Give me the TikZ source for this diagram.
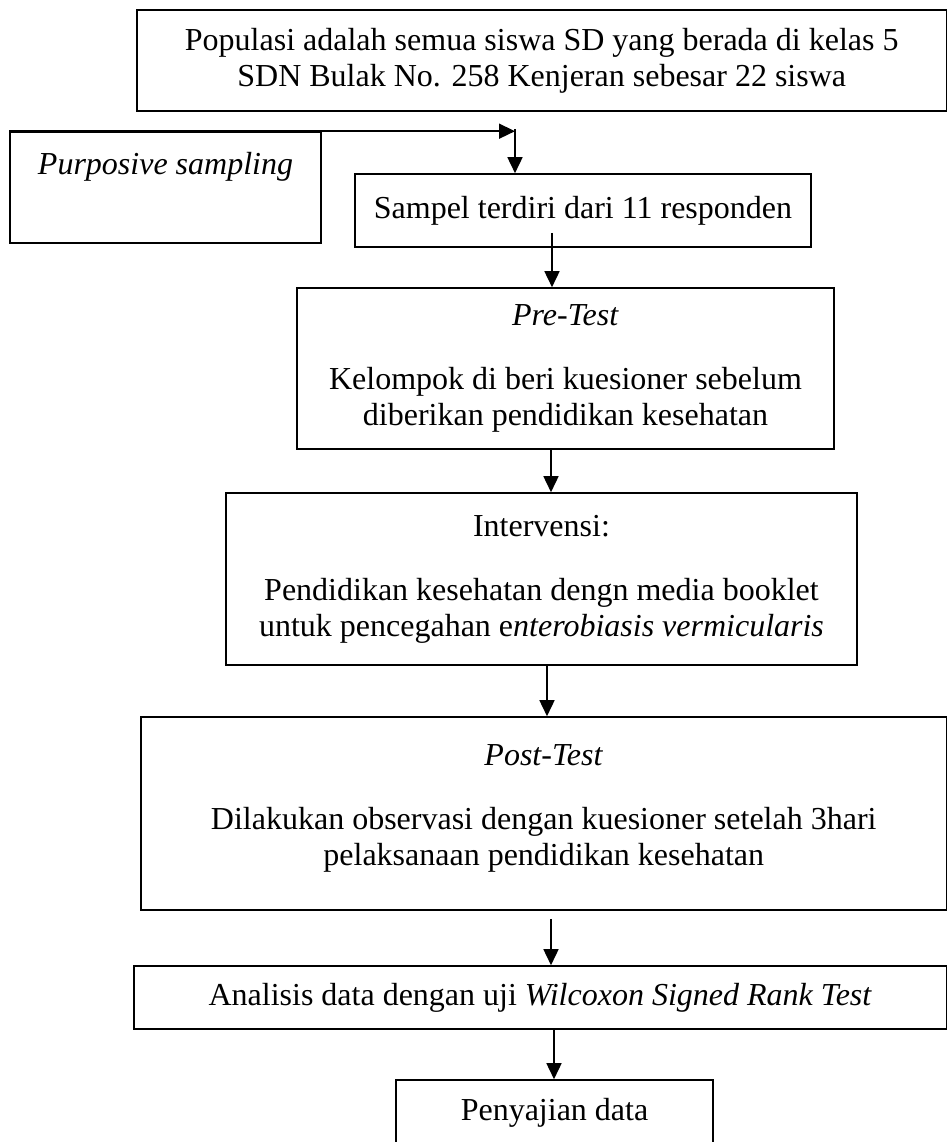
\documentclass[tikz,border=0pt]{standalone}
\usepackage{fontspec}
\setmainfont{Liberation Serif}
\usetikzlibrary{arrows.meta, calc}

\begin{document}
\begin{tikzpicture}[
  x=0.5pt, y=-0.5pt,
  box/.style={draw, rectangle, inner sep=0pt, align=center, font=\fontsize{16}{18}\selectfont, line width=0.8pt},
  flow/.style={-{Triangle[length=8pt, width=7.5pt]}, line width=0.8pt}
]
\useasboundingbox (0,0) rectangle (948,1142);
\node[box, minimum width=404.75pt, minimum height=50.5pt] (pop) at (541.75,60.5) {Populasi adalah semua siswa SD yang berada di kelas 5\\SDN Bulak No. 258 Kenjeran sebesar 22 siswa};
\node[box, minimum width=155.5pt, minimum height=55.5pt] (purp) at (165.5,187.5) {\textit{Purposive sampling}\\[6.5pt]\mbox{}};
\node[box, minimum width=228pt, minimum height=36.5pt] (samp) at (583,210.5) {Sampel terdiri dari 11 responden};
\node[box, minimum width=268.5pt, minimum height=80.5pt] (pre) at (565.5,368.5) {\textit{Pre-Test}\\[14pt]Kelompok di beri kuesioner sebelum\\diberikan pendidikan kesehatan};
\node[box, minimum width=315.5pt, minimum height=86pt] (interv) at (541.5,579) {Intervensi:\\[14pt]Pendidikan kesehatan dengn media booklet\\untuk pencegahan e\textit{nterobiasis vermicularis}};
\node[box, minimum width=402.75pt, minimum height=96.5pt] (post) at (543.75,813.5) {\textit{Post-Test}\\[14pt]Dilakukan observasi dengan kuesioner setelah 3hari\\pelaksanaan pendidikan kesehatan\\[-10pt]\mbox{}};
\node[box, minimum width=406.25pt, minimum height=31.5pt] (anal) at (540.25,997.5) {Analisis data dengan uji \textit{Wilcoxon Signed Rank Test}};
\node[box, minimum width=158.5pt, minimum height=32.5pt] (saji) at (554.5,1112.5) {Penyajian data};
\coordinate (join) at (515,129);
\draw[flow] (purp.north west) -- (join |- purp.north);
\draw[flow] (join) -- (join |- samp.north);
\draw[flow] ([shift={(-31,-15)}]samp.south) -- ([xshift=-15.5pt]samp.south |- pre.north);
\draw[flow] ([xshift=-7.25pt]pre.south) -- ([xshift=-7.25pt]pre.south |- interv.north);
\draw[flow] ([xshift=2.75pt]interv.south) -- ([xshift=2.75pt]interv.south |- post.north);
\draw[flow] ([shift={(7.25,8)}]post.south) -- ([xshift=3.625pt]post.south |- anal.north);
\draw[flow] ([xshift=6.875pt]anal.south) -- ([xshift=6.875pt]anal.south |- saji.north);
\end{tikzpicture}
\end{document}
